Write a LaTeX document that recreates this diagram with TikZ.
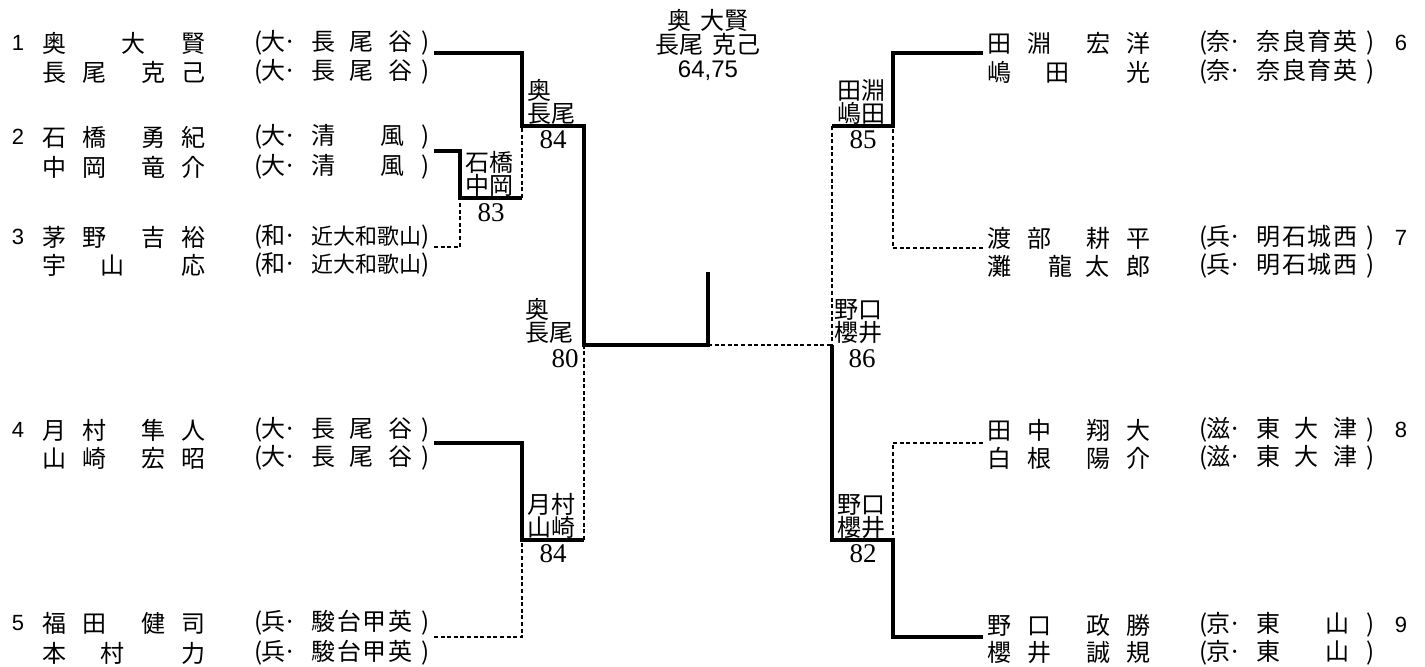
\documentclass[tikz,border=0pt]{standalone}
\usepackage{fontspec}
\setmainfont{Liberation Serif}
\newfontfamily\jpfont{Noto Sans CJK JP}
\newfontfamily\numfont{Liberation Sans}
\usetikzlibrary{positioning}

% one glyph at a fixed offset inside a name or school field
\newcommand\putch[2]{\makebox[0pt][l]{\hspace*{#1pt}#2}}
\newcommand\nmFour[4]{\putch{0}{#1}\putch{20}{#2}\putch{49.5}{#3}\putch{69.5}{#4}\hspace*{81.5pt}}
\newcommand\nmOneTwo[3]{\putch{0}{#1}\putch{39.5}{#2}\putch{69.5}{#3}\hspace*{81.5pt}}
\newcommand\nmTwoOne[3]{\putch{0}{#1}\putch{29}{#2}\putch{69.5}{#3}\hspace*{81.5pt}}
\newcommand\nmOneThree[4]{\putch{0}{#1}\putch{30.5}{#2}\putch{49}{#3}\putch{69.5}{#4}\hspace*{81.5pt}}
\newcommand\school[3][50.5pt]{\putch{0}{(}\putch{3.5}{#2}\putch{14.5}{·}\putch{28.5}{\makebox[#1][s]{#3}}\putch{83.5}{)}\hspace*{87pt}}

\tikzset{
  bk/name/.style={anchor=west, inner sep=0pt, font=\jpfont\fontsize{12}{12}\selectfont},
  bk/seed/.style={inner sep=0pt, font=\numfont\fontsize{11}{11}\selectfont},
  bk/pair/.style={inner sep=0pt, align=left, font=\jpfont\fontsize{12}{11.5}\selectfont},
  bk/score/.style={inner sep=0pt, font=\fontsize{13.5}{13.5}\selectfont},
  bk/title/.style={inner sep=0pt, align=center, font=\jpfont\fontsize{12}{12}\selectfont},
  bk/win/.style={line width=1.9pt, line join=miter},
  bk/lose/.style={line width=0.75pt, dash pattern=on 2pt off 1.3pt}
}

\begin{document}
\begin{tikzpicture}[x=0.5pt,y=-0.5pt]
  \useasboundingbox (0,0) rectangle (1425,667);
  \fill[white] (0,0) rectangle (1425,667);

  % left half
  \node[bk/seed] (seed1) at (18,43) {1};
  \node[bk/name] (n1a) at (42,43) {\nmOneTwo{奥}{大}{賢}};
  \node[bk/name] (n1b) at (42,72) {\nmFour{長}{尾}{克}{己}};
  \node[bk/name] (a1a) at (254,43) {\school{大}{長\hfill 尾\hfill 谷}};
  \node[bk/name] (a1b) at (254,72) {\school{大}{長\hfill 尾\hfill 谷}};

  \node[bk/seed] (seed2) at (18,137) {2};
  \node[bk/name] (n2a) at (42,137) {\nmFour{石}{橋}{勇}{紀}};
  \node[bk/name] (n2b) at (42,167) {\nmFour{中}{岡}{竜}{介}};
  \node[bk/name] (a2a) at (254,137) {\school[46.5pt]{大}{清\hfill 風}};
  \node[bk/name] (a2b) at (254,167) {\school[46.5pt]{大}{清\hfill 風}};

  \node[bk/seed] (seed3) at (18,237) {3};
  \node[bk/name] (n3a) at (42,237) {\nmFour{茅}{野}{吉}{裕}};
  \node[bk/name] (n3b) at (42,265) {\nmTwoOne{宇}{山}{応}};
  \node[bk/name] (a3a) at (254,237) {\school[55pt]{和}{\fontsize{11}{11}\selectfont 近\hfill 大\hfill 和\hfill 歌\hfill 山}};
  \node[bk/name] (a3b) at (254,265) {\school[55pt]{和}{\fontsize{11}{11}\selectfont 近\hfill 大\hfill 和\hfill 歌\hfill 山}};

  \node[bk/seed] (seed4) at (18,430) {4};
  \node[bk/name] (n4a) at (42,430) {\nmFour{月}{村}{隼}{人}};
  \node[bk/name] (n4b) at (42,458) {\nmFour{山}{崎}{宏}{昭}};
  \node[bk/name] (a4a) at (254,430) {\school{大}{長\hfill 尾\hfill 谷}};
  \node[bk/name] (a4b) at (254,458) {\school{大}{長\hfill 尾\hfill 谷}};

  \node[bk/seed] (seed5) at (18,623) {5};
  \node[bk/name] (n5a) at (42,623) {\nmFour{福}{田}{健}{司}};
  \node[bk/name] (n5b) at (42,653) {\nmTwoOne{本}{村}{力}};
  \node[bk/name] (a5a) at (254,623) {\school{兵}{駿\hfill 台\hfill 甲\hfill 英}};
  \node[bk/name] (a5b) at (254,653) {\school{兵}{駿\hfill 台\hfill 甲\hfill 英}};

  % right half
  \node[bk/seed] (seed6) at (1401,43) {6};
  \node[bk/name] (n6a) at (987,43) {\nmFour{田}{淵}{宏}{洋}};
  \node[bk/name] (n6b) at (987,72) {\nmTwoOne{嶋}{田}{光}};
  \node[bk/name] (a6a) at (1199,43) {\school{奈}{奈\hfill 良\hfill 育\hfill 英}};
  \node[bk/name] (a6b) at (1199,72) {\school{奈}{奈\hfill 良\hfill 育\hfill 英}};

  \node[bk/seed] (seed7) at (1401,238) {7};
  \node[bk/name] (n7a) at (987,238) {\nmFour{渡}{部}{耕}{平}};
  \node[bk/name] (n7b) at (987,266) {\nmOneThree{灘}{龍}{太}{郎}};
  \node[bk/name] (a7a) at (1199,238) {\school{兵}{明\hfill 石\hfill 城\hfill 西}};
  \node[bk/name] (a7b) at (1199,266) {\school{兵}{明\hfill 石\hfill 城\hfill 西}};

  \node[bk/seed] (seed8) at (1401,430) {8};
  \node[bk/name] (n8a) at (987,430) {\nmFour{田}{中}{翔}{大}};
  \node[bk/name] (n8b) at (987,458) {\nmFour{白}{根}{陽}{介}};
  \node[bk/name] (a8a) at (1199,430) {\school{滋}{東\hfill 大\hfill 津}};
  \node[bk/name] (a8b) at (1199,458) {\school{滋}{東\hfill 大\hfill 津}};

  \node[bk/seed] (seed9) at (1401,625) {9};
  \node[bk/name] (n9a) at (987,625) {\nmFour{野}{口}{政}{勝}};
  \node[bk/name] (n9b) at (987,653) {\nmFour{櫻}{井}{誠}{規}};
  \node[bk/name] (a9a) at (1199,625) {\school[46.5pt]{京}{東\hfill 山}};
  \node[bk/name] (a9b) at (1199,653) {\school[46.5pt]{京}{東\hfill 山}};

  % bracket points
  \coordinate (e1) at (434,53);
  \coordinate (e2) at (434,151);
  \coordinate (e3) at (434,247);
  \coordinate (e4) at (434,443);
  \coordinate (e5) at (434,637);
  \coordinate (r23) at (460,198);
  \coordinate (r23o) at (522,198);
  \coordinate (q1) at (522,126);
  \coordinate (q1o) at (584,126);
  \coordinate (q4) at (522,540);
  \coordinate (q4o) at (584,540);
  \coordinate (s1) at (584,345);
  \coordinate (fin) at (708,345);
  \coordinate (champ) at (708,272);
  \coordinate (s2) at (832,345);
  \coordinate (e6) at (983,53);
  \coordinate (e7) at (983,248);
  \coordinate (e8) at (983,443);
  \coordinate (e9) at (983,637);
  \coordinate (q6) at (893,126);
  \coordinate (q6o) at (832,126);
  \coordinate (q8) at (893,540);
  \coordinate (q8o) at (832,540);

  % winners
  \draw[bk/win] (e1) -| (q1) -- (q1o) -- (s1) -- (fin) -- (champ);
  \draw[bk/win] (e2) -| (r23) -- (r23o);
  \draw[bk/win] (e4) -| (q4) -- (q4o);
  \draw[bk/win] (e6) -| (q6) -- (q6o);
  \draw[bk/win] (e9) -| (q8) -- (q8o) -- (s2);

  % losers
  \draw[bk/lose] (e3) -| (r23);
  \draw[bk/lose] (r23o) -- (q1);
  \draw[bk/lose] (e5) -| (q4);
  \draw[bk/lose] (q4o) -- (s1);
  \draw[bk/lose] (fin) -- (s2);
  \draw[bk/lose] (q6o) -- (s2);
  \draw[bk/lose] (e7) -| (q6);
  \draw[bk/lose] (e8) -| (q8);

  % pair labels and scores
  \node[bk/pair, anchor=south] (w23) at (489,197) {石橋\\中岡};
  \node[bk/score, anchor=north] (sc23) at (491,203) {83};
  \node[bk/pair, anchor=south] (w1) at (551,125) {奥\\長尾};
  \node[bk/score, anchor=north] (sc1) at (553,130) {84};
  \node[bk/pair, anchor=south west] (wl) at (525,344) {奥\\長尾};
  \node[bk/score, anchor=north east] (scl) at (579,349) {80};
  \node[bk/pair, anchor=south] (w4) at (551,539) {月村\\山崎};
  \node[bk/score, anchor=north] (sc4) at (553,544) {84};
  \node[bk/pair, anchor=south] (w6) at (861,125) {田淵\\嶋田};
  \node[bk/score, anchor=north] (sc6) at (863,130) {85};
  \node[bk/pair, anchor=south west] (wr) at (834,344) {野口\\櫻井};
  \node[bk/score, anchor=north] (scr) at (862,349) {86};
  \node[bk/pair, anchor=south] (w9) at (861,539) {野口\\櫻井};
  \node[bk/score, anchor=north] (sc9) at (863,544) {82};

  % champion
  \node[bk/title, anchor=north] (winner) at (708,9) {奥\hspace{5pt}大賢\\長尾\hspace{5pt}克己\\{\numfont 64,75}};
\end{tikzpicture}
\end{document}
